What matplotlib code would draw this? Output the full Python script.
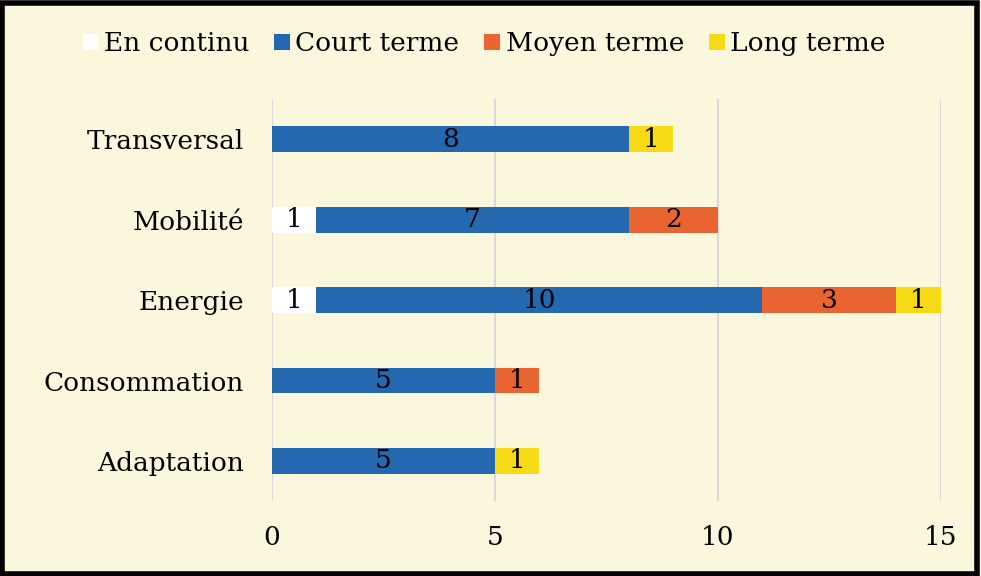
import numpy as np
import matplotlib
matplotlib.use("Agg")
import matplotlib.pyplot as plt
from matplotlib.patches import Rectangle

# categories from bottom to top
categories = ["Adaptation", "Consommation", "Energie", "Mobilité", "Transversal"]
en_continu = [0, 0, 1, 1, 0]
court_terme = [5, 5, 10, 7, 8]
moyen_terme = [0, 1, 3, 2, 0]
long_terme = [1, 0, 1, 0, 1]

series = [("En continu", en_continu, "#FFFFFF"),
          ("Court terme", court_terme, "#2468B0"),
          ("Moyen terme", moyen_terme, "#E86532"),
          ("Long terme", long_terme, "#F6DA15")]

bg = "#FBF7DC"
plt.rcParams["font.family"] = ["DejaVu Serif", "DejaVu Sans"]

fig = plt.figure(figsize=(9.81, 5.76), dpi=100, facecolor=bg)
ax = fig.add_axes([0.277, 0.130, 0.682, 0.698])
ax.set_facecolor(bg)

y = np.arange(len(categories))
left = np.zeros(len(categories))
for name, vals, col in series:
    vals = np.array(vals, dtype=float)
    bars = ax.barh(y, vals, left=left, height=0.32, color=col, label=name, zorder=3)
    for b, v in zip(bars, vals):
        if v > 0:
            ax.text(b.get_x() + b.get_width() / 2, b.get_y() + b.get_height() / 2,
                    f"{int(v)}", ha="center", va="center", fontsize=19, color="black", zorder=4)
    left += vals

ax.set_xlim(0, 15)
ax.set_ylim(-0.5, 4.5)
ax.set_xticks([0, 5, 10, 15])
ax.set_yticks(y)
ax.set_yticklabels(categories)
ax.tick_params(axis="both", length=0, labelsize=19)
ax.tick_params(axis="x", pad=17)
ax.tick_params(axis="y", pad=20)
ax.grid(axis="x", color="#D9D9D9", linewidth=1.5, zorder=0)
for s in ax.spines.values():
    s.set_visible(False)

fig.legend(loc="upper left", bbox_to_anchor=(0.06, 0.987), ncol=4, frameon=False,
           fontsize=19, handlelength=0.6, handleheight=0.6, handletextpad=0.2,
           columnspacing=0.95)

fig.patches.append(Rectangle((0.002, 0.004), 0.994, 0.99, transform=fig.transFigure,
                             fill=False, edgecolor="black", linewidth=4))

fig.savefig("out.png", dpi=100, facecolor=bg)
